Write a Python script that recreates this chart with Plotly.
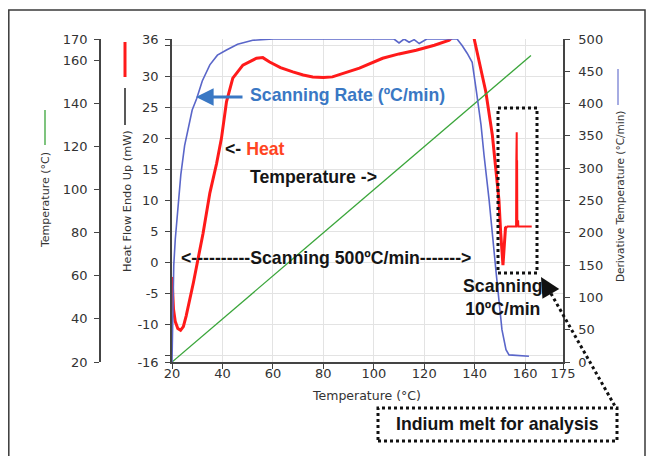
import plotly.graph_objects as go

# page body has an 8px margin, so the figure fills the rest of the 655x456 window
OFF = 8
W, H = 655 - OFF, 456 - OFF

# ---------------- data ----------------
heat_T = [20.0, 20.2, 20.6, 21.3, 22.3, 23.4, 24.5, 25.6, 27.1, 28.5, 29.7, 31.0, 32.3, 35.0,
          37.7, 39.6, 41.6, 44.1, 48.1, 53.5, 56.0, 58.7, 63.0, 67.9, 72.0, 75.8, 80.0, 83.6,
          88.0, 94.3, 103.5, 110.0, 116.8, 124.0, 129.9, 133.0, 136.0, 139.0, 139.8, 141.7,
          144.4, 147.0, 148.5, 149.6, 150.3, 151.2, 152.2, 152.8]
heat_mW = [-2.3, -5.0, -7.5, -9.5, -10.6, -10.9, -10.3, -8.6, -6.0, -3.2, -0.7, 1.8, 4.7, 11.2,
           16.0, 20.0, 25.9, 29.7, 31.8, 32.9, 33.0, 32.3, 31.4, 30.7, 30.2, 29.9, 29.8, 29.9,
           30.5, 31.3, 32.9, 33.6, 34.2, 35.0, 35.8, 37.0, 39.0, 38.0, 36.0, 32.3,
           27.5, 20.5, 14.5, 10.1, 4.8, -0.4, 5.6, 5.8]
indium_T = [152.8, 156.4, 156.5, 156.55, 156.65, 156.75, 156.8, 156.9, 157.2, 157.3, 162.6]
indium_mW = [5.8, 5.8, 16.5, 9.5, 21.0, 8.0, 16.5, 5.8, 6.8, 5.8, 5.8]
rate_T = [20.0, 20.1, 20.3, 20.7, 21.3, 21.6, 22.5, 23.5, 25.0, 26.5, 28.0, 29.8, 32.0, 35.0,
          38.0, 41.6, 46.0, 52.0, 60.0, 100.0, 108.0, 110.0, 112.0, 114.0, 116.0, 118.0, 121.0,
          133.0, 135.0, 137.0, 139.0, 140.7, 142.5, 143.7, 145.7, 148.5, 149.5, 150.8, 152.4,
          153.6, 161.5]
rate_val = [0, 30, 100, 150, 190, 204, 250, 290, 335, 365, 390, 408, 435, 460,
            475, 483, 492, 498, 500, 500, 500, 494, 500, 495, 499, 493, 500,
            500, 490, 478, 464, 418, 367, 320, 251, 138, 100, 50, 19,
            11, 9]
temp_T = [20.0, 162.3]
temp_val = [20.0, 162.3]

x_ticks = [20, 40, 60, 80, 100, 120, 140, 160, 175]
hf_ticks = [-16, -15, -10, -5, 0, 5, 10, 15, 20, 25, 30, 35, 36]
hf_labels = ["-16", "", "-10", "-5", "0", "5", "10", "15", "20", "25", "30", "", "36"]
temp_ticks = [20, 40, 60, 80, 100, 120, 140, 160, 170]
rate_ticks = [0, 50, 100, 150, 200, 250, 300, 350, 400, 450, 500]


def px(x):
    return (x - OFF) / W


def py(y):
    return 1 - (y - OFF) / H


TICKFONT = dict(family="DejaVu Sans", size=13, color="#333333")
AXCOL = "#444444"

fig = go.Figure()
fig.add_trace(go.Scatter(x=heat_T, y=heat_mW, mode="lines", yaxis="y",
                         line=dict(color="#ff1a1a", width=3), showlegend=False))
fig.add_trace(go.Scatter(x=indium_T, y=indium_mW, mode="lines", yaxis="y",
                         line=dict(color="#ff1a1a", width=2), showlegend=False))
fig.add_trace(go.Scatter(x=temp_T, y=temp_val, mode="lines", yaxis="y2",
                         line=dict(color="#3aa53a", width=1.3), showlegend=False))
fig.add_trace(go.Scatter(x=rate_T, y=rate_val, mode="lines", yaxis="y3",
                         line=dict(color="#5a66c9", width=1.6), showlegend=False))

fig.update_layout(
    width=W, height=H,
    margin=dict(l=0, r=0, t=0, b=0, autoexpand=False),
    paper_bgcolor="white", plot_bgcolor="white",
    xaxis=dict(domain=[px(172), px(563)], range=[20, 175], tickvals=x_ticks,
               showgrid=True, gridcolor="#e3e3e3", gridwidth=1, zeroline=False,
               showline=True, linecolor=AXCOL, linewidth=1.5, automargin=False,
               ticks="outside", ticklen=5, tickcolor=AXCOL, tickfont=TICKFONT,
               ticklabelstandoff=-6),
    yaxis=dict(domain=[py(362), py(39)], range=[-16, 36], tickvals=hf_ticks, ticktext=hf_labels,
               showgrid=True, gridcolor="#e3e3e3", gridwidth=1, zeroline=False,
               showline=True, linecolor=AXCOL, linewidth=1.5, automargin=False,
               ticks="outside", ticklen=5, tickcolor=AXCOL, tickfont=TICKFONT,
               ticklabelstandoff=4),
    yaxis2=dict(overlaying="y", anchor="free", position=px(100), side="left",
                range=[20, 170], tickvals=temp_ticks, showgrid=False, zeroline=False,
                showline=True, linecolor=AXCOL, linewidth=1.5, automargin=False,
                ticks="outside", ticklen=5, tickcolor=AXCOL, tickfont=TICKFONT,
                ticklabelstandoff=4),
    yaxis3=dict(overlaying="y", anchor="x", side="right",
                range=[0, 500], tickvals=rate_ticks, showgrid=False, zeroline=False,
                showline=True, linecolor=AXCOL, linewidth=1.5, automargin=False,
                ticks="outside", ticklen=5, tickcolor=AXCOL, tickfont=TICKFONT,
                ticklabelstandoff=6),
)

shapes = []
# outer frame
shapes.append(dict(type="rect", xref="paper", yref="paper", x0=px(8.8), x1=px(645),
                   y0=py(480), y1=py(10), line=dict(color="#3a3a3a", width=1.5)))
# dotted boxes
shapes.append(dict(type="rect", xref="paper", yref="paper", x0=px(498), x1=px(537),
                   y0=py(273), y1=py(108), line=dict(color="#111111", width=3, dash="dot")))
shapes.append(dict(type="rect", xref="paper", yref="paper", x0=px(378), x1=px(617),
                   y0=py(441), y1=py(408), line=dict(color="#111111", width=3, dash="dot")))
shapes.append(dict(type="line", xref="paper", yref="paper", x0=px(545), y0=py(283),
                   x1=px(616), y1=py(408), line=dict(color="#111111", width=3, dash="dot")))
# axis legend segments
shapes.append(dict(type="line", xref="paper", yref="paper", x0=px(45), x1=px(45),
                   y0=py(145), y1=py(110), line=dict(color="#3aa53a", width=1.3)))
shapes.append(dict(type="line", xref="paper", yref="paper", x0=px(125), x1=px(125),
                   y0=py(77), y1=py(42), line=dict(color="#ff1a1a", width=3)))
shapes.append(dict(type="line", xref="paper", yref="paper", x0=px(125), x1=px(125),
                   y0=py(125), y1=py(88), line=dict(color="#222222", width=1.5)))
shapes.append(dict(type="line", xref="paper", yref="paper", x0=px(618), x1=px(618),
                   y0=py(105), y1=py(69), line=dict(color="#8890d8", width=1.5)))
fig.update_layout(shapes=shapes)

BOLD = "Liberation Sans"
ann = []


def txt(x, y, text, size=17.7, color="#151515", family=BOLD, xanchor="left", angle=0, bold=True):
    ann.append(dict(x=px(x), y=py(y), xref="paper", yref="paper", showarrow=False,
                    text=("<b>%s</b>" % text) if bold else text, textangle=angle,
                    xanchor=xanchor, yanchor="middle",
                    font=dict(family=family, size=size, color=color)))


# blue arrow
ann.append(dict(x=px(196), y=py(97), xref="paper", yref="paper", ax=48, ay=0, text="",
                showarrow=True, arrowhead=2, arrowsize=1.1, arrowwidth=3.2, arrowcolor="#3a78c4"))
# diagonal arrow head near small box
ann.append(dict(x=px(541), y=py(277), xref="paper", yref="paper", ax=7, ay=12, text="",
                showarrow=True, arrowhead=2, arrowsize=1.3, arrowwidth=3, arrowcolor="#111111"))

txt(248, 95, "Scanning Rate (ºC/min)", color="#3a78c4")
txt(223, 149, '<span style="color:#151515">&lt;-</span> <span style="color:#ff4422">Heat</span>')
txt(248, 177, "Temperature -&gt;")
txt(179, 258, "&lt;----------Scanning 500ºC/min-------&gt;")
txt(503, 297, "Scanning<br>10ºC/min", xanchor="center")
txt(497, 424, "Indium melt for analysis", xanchor="center")

# axis titles
REG = "DejaVu Sans"
txt(45, 200, "Temperature (°C)", size=11, color="#333333", family=REG, xanchor="center",
    angle=-90, bold=False)
txt(127, 201, "Heat Flow Endo Up (mW)", size=11.3, color="#333333", family=REG,
    xanchor="center", angle=-90, bold=False)
txt(620, 197, "Derivative Temperature (°C/min)", size=10.5, color="#333333", family=REG,
    xanchor="center", angle=-90, bold=False)
txt(366, 395, "Temperature (°C)", size=12.5, color="#333333", family=REG,
    xanchor="center", bold=False)

fig.update_layout(annotations=ann)

fig.write_html("out.html")
